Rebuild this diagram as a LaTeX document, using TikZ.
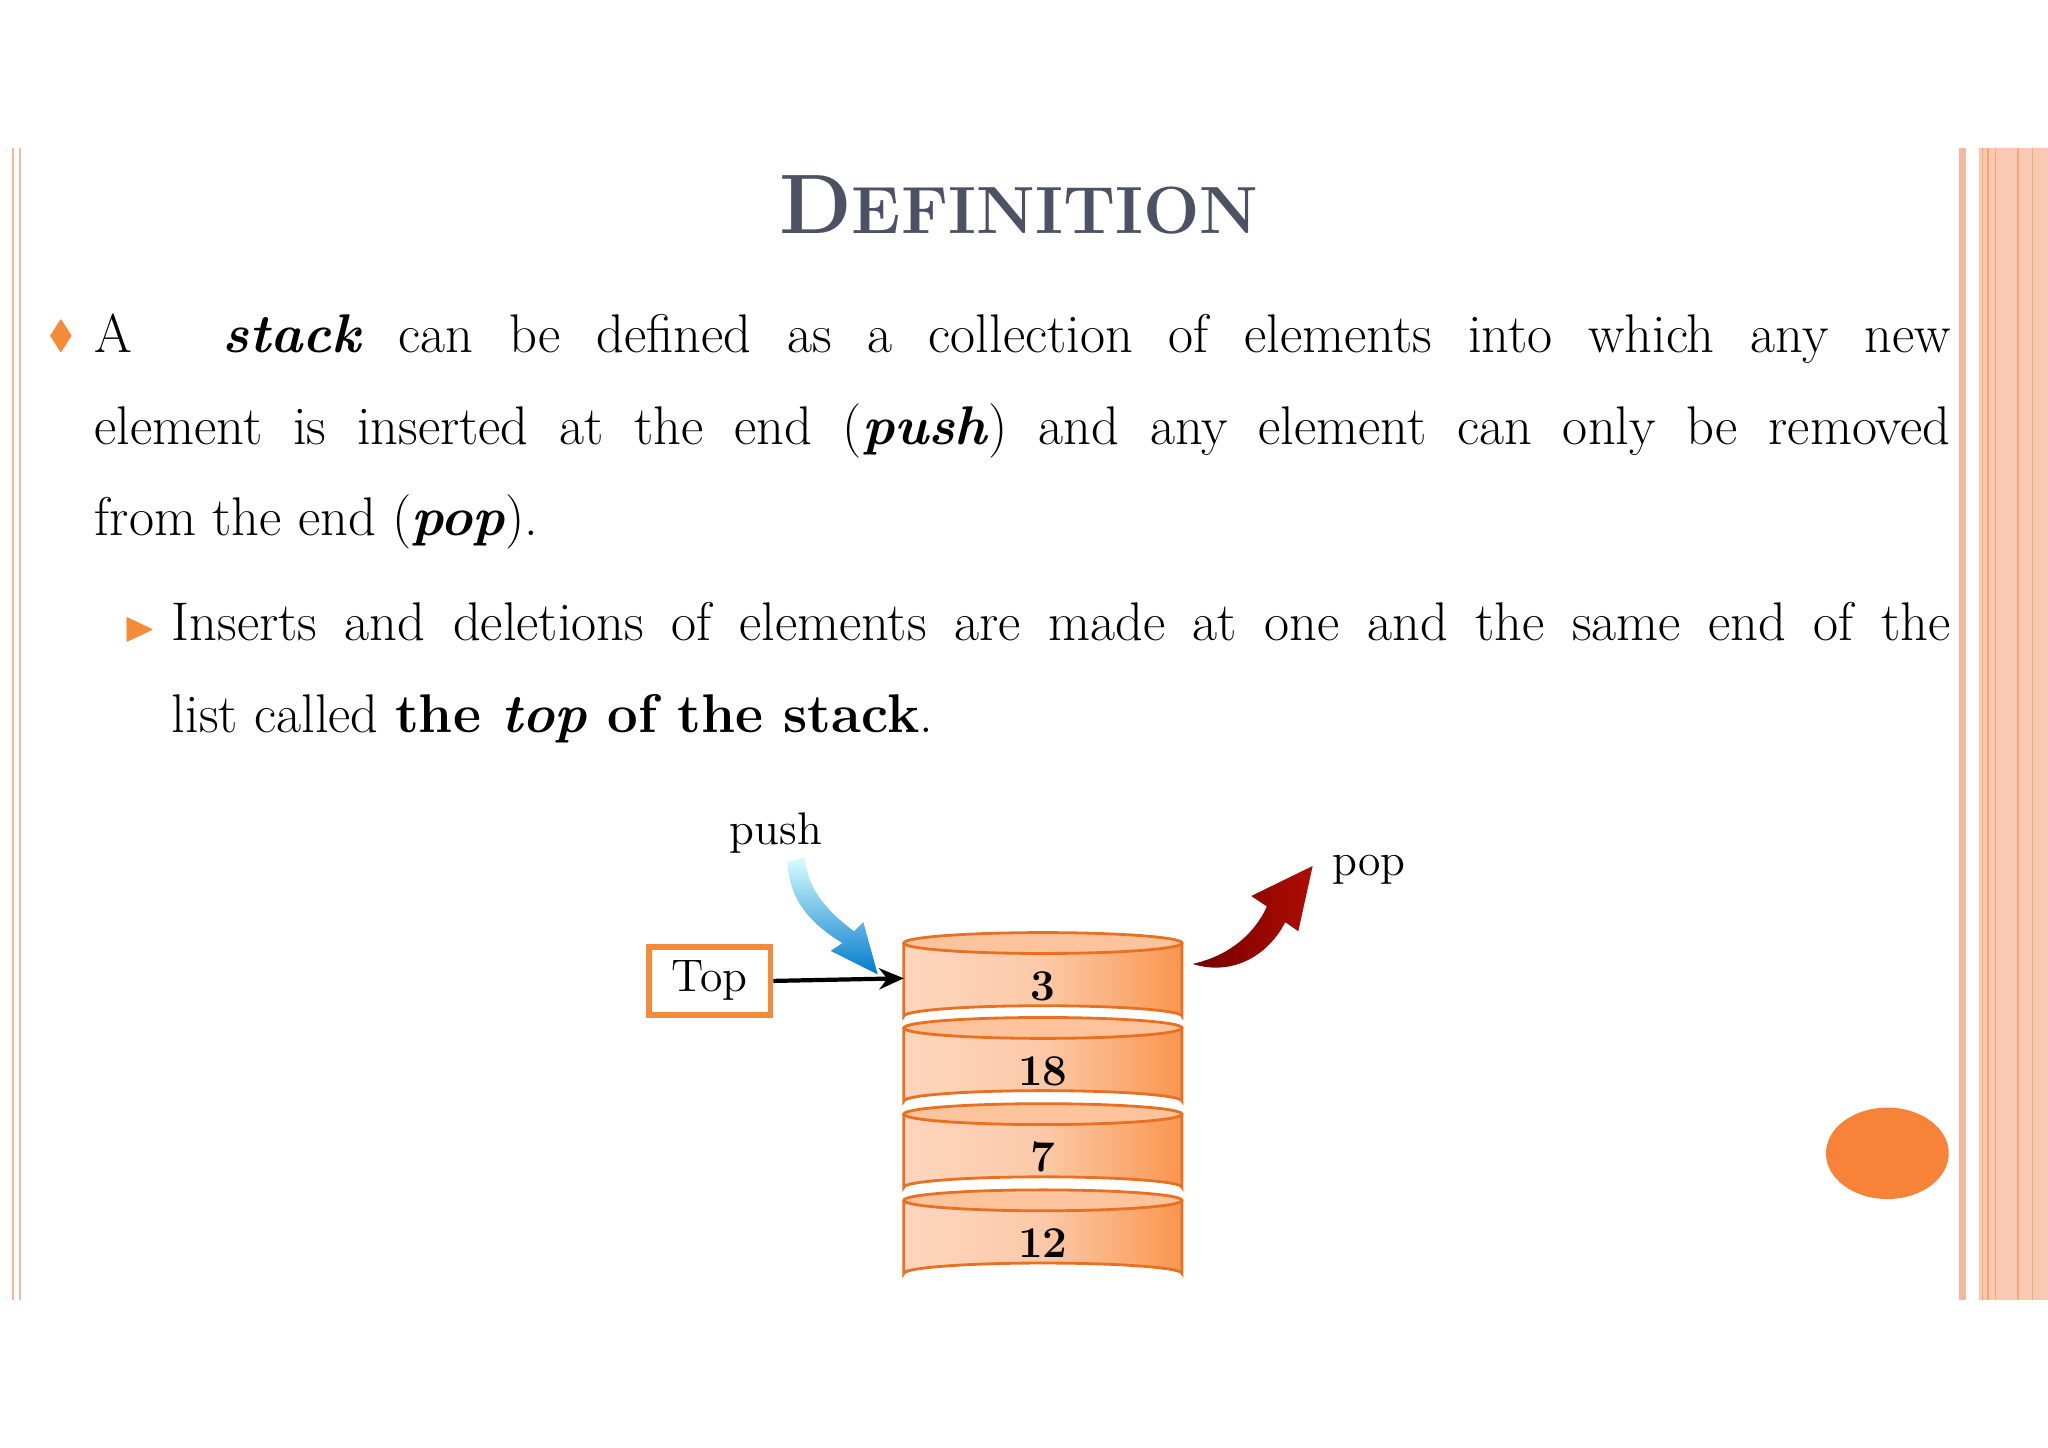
\documentclass[tikz,border=0pt]{standalone}
\usepackage{amssymb}
\usetikzlibrary{arrows.meta}
\definecolor{bord}{HTML}{F7B69E}
\definecolor{bandfill}{HTML}{FAC9B4}
\definecolor{titlec}{HTML}{4C5264}
\definecolor{cylL}{HTML}{FDD6BE}
\definecolor{cylR}{HTML}{F99650}
\definecolor{cylD}{HTML}{E87020}
\definecolor{orng}{HTML}{F58A3A}
\tikzset{
  body/.style={anchor=base west,inner sep=0pt,font=\fontsize{15.5}{18}\selectfont},
  lbl/.style={font=\fontsize{13}{15}\selectfont},
  num/.style={font=\fontsize{12.5}{14}\selectfont\bfseries},
}
\newcommand{\bi}[1]{\textbf{\textit{#1}}}
\begin{document}
\begin{tikzpicture}[x=0.013061cm,y=-0.013061cm]
\useasboundingbox (0,0) rectangle (1568,1108);
% borders
\draw[bord,line width=0.6pt] (10,113) -- (10,995) (15,113) -- (15,995);
\fill[bord] (1500,113) rectangle (1505,995);
\fill[bandfill] (1515,113) rectangle (1568,995);
\foreach \x in {1518,1522,1528,1545,1556}{\draw[bord!70!orange,line width=0.4pt] (\x,113) -- (\x,995);}
% title
\node[titlec,font=\bfseries] (title) at (780,157) {\fontsize{24}{26}\selectfont D\fontsize{19}{22}\selectfont EFINITION};
% text
\node[orng,anchor=base] (b1) at (47,266) {\fontsize{11}{12}\selectfont$\blacklozenge$};
\node[body] (l1) at (72,270) {\makebox[18.56cm][s]{A \quad \bi{stack} can be defined as a collection of elements into which any new}};
\node[body] (l2) at (72,340) {\makebox[18.56cm][s]{element is inserted at the end (\bi{push}) and any element can only be removed}};
\node[body] (l3) at (72,410) {from the end (\bi{pop}).};
\node[orng,anchor=base] (b2) at (107,490) {\fontsize{12}{12}\selectfont$\blacktriangleright$};
\node[body] (l4) at (131,490) {\makebox[17.79cm][s]{Inserts and deletions of elements are made at one and the same end of the}};
\node[body] (l5) at (131,561) {list called \textbf{the \textit{top} of the stack}.};
% stack
\foreach \y/\t [count=\i] in {722/3,787/18,853/7,919/12}{
  \shade[left color=cylL,right color=cylR,middle color=cylL!80!cylR]
     (692,\y) -- (692,\y+56) arc[start angle=180,end angle=360,x radius=106.5,y radius=8] -- (905,\y) arc[start angle=0,end angle=180,x radius=106.5,y radius=8];
  \draw[cylD,line width=0.8pt] (692,\y) -- (692,\y+56) arc[start angle=180,end angle=360,x radius=106.5,y radius=8] -- (905,\y);
  \draw[cylD,line width=0.8pt,fill=cylL!70!cylR] (798.5,\y) ellipse[x radius=106.5,y radius=8];
  \node[num] (c\i) at (798.5,\y+33) {\t};
}
\node[draw=orng,line width=1.6pt,minimum width=93*0.013061cm,minimum height=52*0.013061cm,lbl,inner sep=2pt] (top) at (543.5,751) {Top};
\coordinate (stk) at (692,749);
\draw[-{Stealth[length=7pt,width=6pt]},line width=1.2pt] (top.east) -- (stk);
% push arrow
\shade[top color=cyan!15!white,bottom color=cyan!60!blue!80!black]
 (603,660) .. controls (604,690) and (622,708) .. (645,722) -- (636,728) -- (672,746) -- (661,706) -- (654,713)
 .. controls (636,700) and (618,682) .. (616,656) -- cycle;
\node[lbl] (push) at (594,638) {push};
% pop arrow
\shade[left color=red!45!black,right color=red!65!black!90!orange]
 (913,738) .. controls (945,748) and (972,730) .. (984,706) -- (994,713) -- (1005,663) -- (958,686) -- (970,694)
 .. controls (960,716) and (940,732) .. (913,738) -- cycle;
\node[lbl] (pop) at (1048,666) {pop};
% orange dot
\fill[orng!95!red] (1445,883) ellipse[x radius=47,y radius=35];
\end{tikzpicture}
\end{document}
